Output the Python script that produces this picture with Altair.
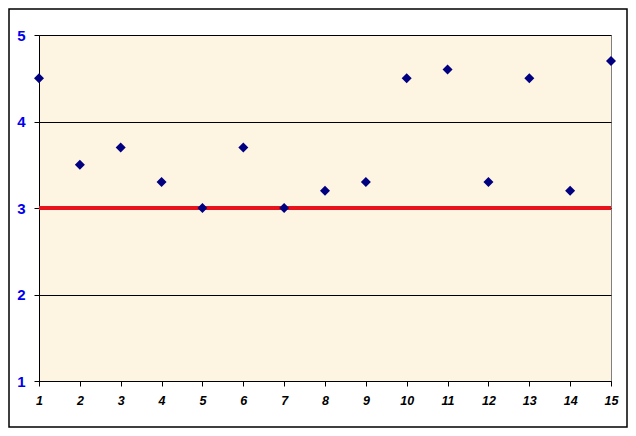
import altair as alt
import pandas as pd

x_vals = list(range(1, 16))
y_vals = [4.5, 3.5, 3.7, 3.3, 3.0, 3.7, 3.0, 3.2, 3.3, 4.5, 4.6, 3.3, 4.5, 3.2, 4.7]
target = [3]
y_ticks = [1, 2, 3, 4, 5]

df = pd.DataFrame({"x": x_vals, "y": y_vals})
ref = pd.DataFrame({"y": target})

W, H = 572, 346
PL, PT, PR, PB = 31, 27, 17, 47

xscale = alt.Scale(domain=[1, 15], nice=False, zero=False)
yscale = alt.Scale(domain=[1, 5], nice=False, zero=False)

frame = alt.Chart(ref).mark_rect(
    fill=None, stroke="black", strokeWidth=1.5, clip=False
).encode(
    x=alt.value(-PL + 1), x2=alt.value(W + PR - 1),
    y=alt.value(-PT + 1), y2=alt.value(H + PB - 1),
)

base_grid = alt.Chart(ref).mark_rule(opacity=0).encode(
    y=alt.Y("y:Q", scale=yscale,
            axis=alt.Axis(values=y_ticks, format="d", title=None, grid=True,
                          gridColor="black", gridOpacity=1, gridWidth=1,
                          domainColor="black", tickColor="black", tickSize=5,
                          labelPadding=9, labelColor="#0000EE",
                          labelFont="Liberation Sans", labelFontSize=15,
                          labelFontWeight="bold")),
)

redline = alt.Chart(ref).mark_rule(color="#E8131A", strokeWidth=4).encode(
    y=alt.Y("y:Q", scale=yscale),
)

points = alt.Chart(df).mark_point(
    shape="diamond", filled=True, color="#000080", size=100, opacity=1, clip=False
).encode(
    x=alt.X("x:Q", scale=xscale,
            axis=alt.Axis(values=x_vals, format="d", title=None, grid=False,
                          domainColor="black", tickColor="black", tickSize=5,
                          labelPadding=8, labelColor="black",
                          labelFont="Liberation Sans", labelFontSize=12.5,
                          labelFontWeight="bold", labelFontStyle="italic",
                          labelFlush=False)),
    y=alt.Y("y:Q", scale=yscale),
)

chart = alt.layer(frame, base_grid, redline, points).properties(
    width=W, height=H,
    autosize=alt.AutoSizeParams(type="none"),
    padding={"left": PL, "top": PT, "right": PR, "bottom": PB},
    background="white",
).configure_view(
    fill="#FDF4E1", stroke="#808080", strokeWidth=1
)

chart.save("out.html", embed_options={"renderer": "svg", "actions": False})
